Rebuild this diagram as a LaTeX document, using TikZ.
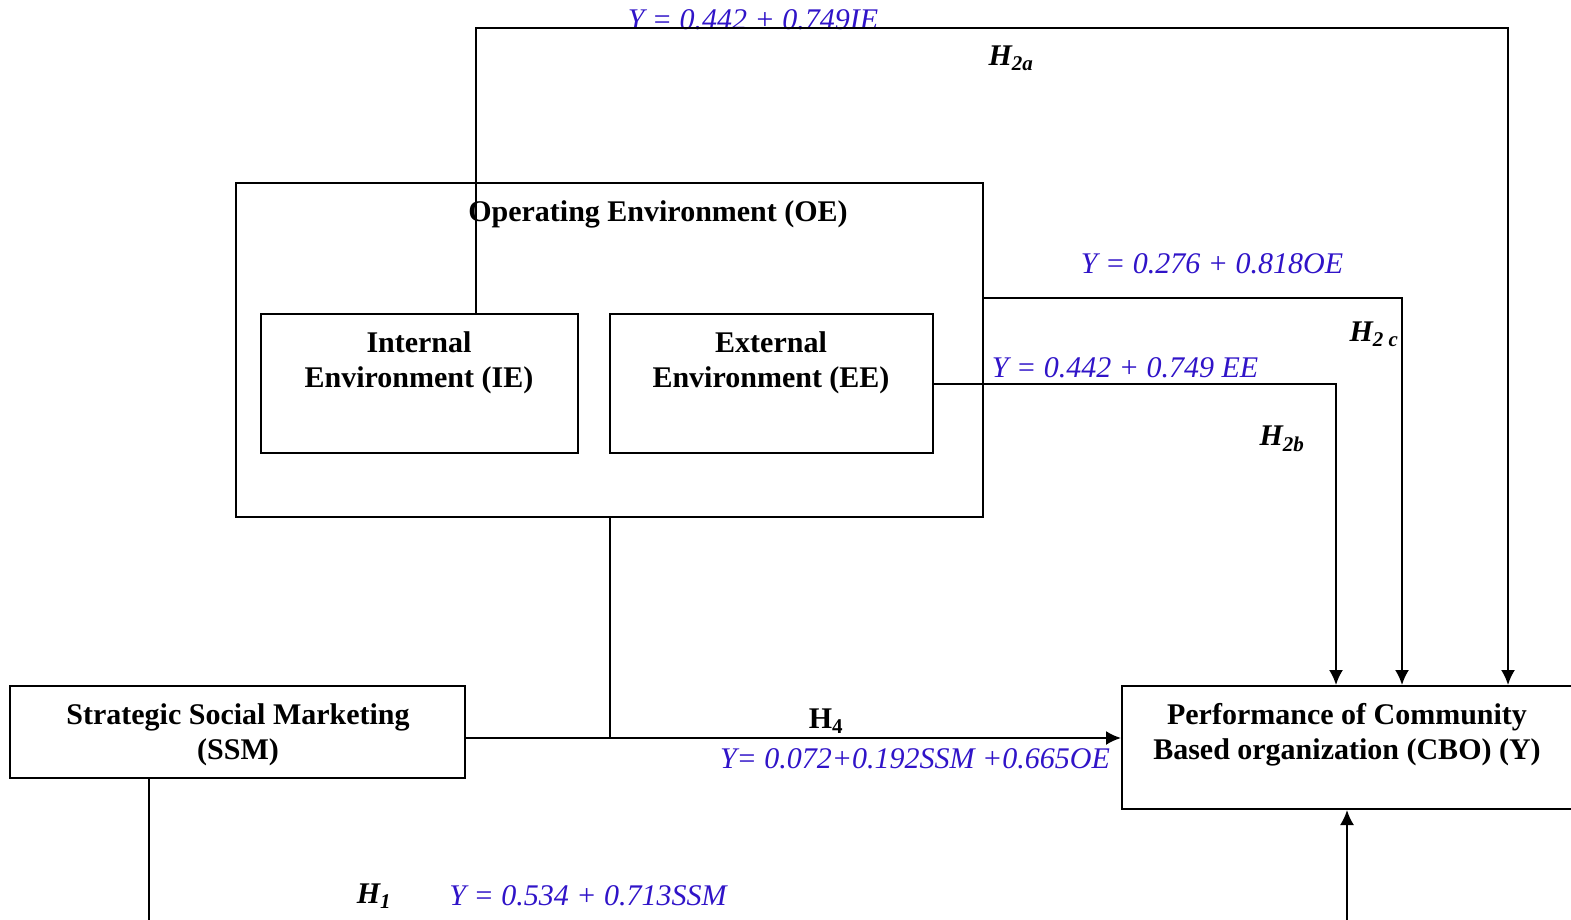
\documentclass[tikz,border=0pt]{standalone}
\usepackage{fontspec}
\setmainfont{Liberation Serif}
\usetikzlibrary{positioning,arrows.meta,calc}
\definecolor{eqblue}{RGB}{48,20,200}

\tikzset{
  box/.style={draw, line width=2pt, inner sep=0pt, anchor=north west},
  boxtext/.style={align=center, inner sep=0pt, font=\fontsize{30}{35}\selectfont\bfseries},
  eq/.style={text=eqblue, inner sep=0pt, font=\fontsize{30}{35}\selectfont\itshape},
  hyp/.style={inner sep=0pt, font=\fontsize{30}{35}\selectfont\bfseries\itshape},
  link/.style={line width=2pt},
  arr/.style={link, -{Latex[length=15pt,width=14pt]}}
}

\begin{document}
\begin{tikzpicture}[x=1pt,y=-1pt]
\useasboundingbox (0,0) rectangle (1571,920);
\clip (0,0) rectangle (1571,920);

% operating environment
\node[box, minimum width=747pt, minimum height=334pt] (oe) at (235,182) {};
\node[boxtext] (oetitle) at (658,214) {Operating Environment (OE)};

\node[box, minimum width=317pt, minimum height=139pt] (ie) at (260,313) {};
\node[boxtext] (ietext) at (419,363) {Internal\\Environment (IE)};

\node[box, minimum width=323pt, minimum height=139pt] (ee) at (609,313) {};
\node[boxtext] (eetext) at (771,363) {External\\Environment (EE)};

% ssm and cbo
\node[box, minimum width=455pt, minimum height=92pt] (ssm) at (9,685) {};
\node[boxtext] (ssmtext) at (238,735) {Strategic Social Marketing\\(SSM)};

\node[box, minimum width=462pt, minimum height=123pt] (cbo) at (1121,685) {};
\node[boxtext] (cbotext) at (1347,735) {Performance of Community\\Based organization (CBO) (Y)};

% labels
\node[eq] (eqie) at (753,20) {Y = 0.442 + 0.749IE};
\node[hyp] (h2a) at (1011,58) {H\textsubscript{2a}};
\node[eq] (eqoe) at (1212,264) {Y = 0.276 + 0.818OE};
\node[hyp] (h2c) at (1374,334) {H\textsubscript{2 c}};
\node[eq] (eqee) at (1125,368) {Y = 0.442 + 0.749 EE};
\node[hyp] (h2b) at (1282,439) {H\textsubscript{2b}};
\node[boxtext] (h4) at (826,721) {H\textsubscript{4}};
\node[eq] (eqssmoe) at (915,759) {Y= 0.072+0.192SSM +0.665OE};
\node[hyp] (h1) at (374,896) {H\textsubscript{1}};
\node[eq] (eqssm) at (588,896) {Y = 0.534 + 0.713SSM};

% arrows
\coordinate (ietop) at ($(ie.north)+(56,0)$);
\coordinate (c2a) at (1508,28);
\draw[arr] (ietop) |- (c2a) -- (c2a |- cbo.north);

\coordinate (c2c) at (1402,298);
\draw[arr] (c2c -| oe.east) -- (c2c) -- (c2c |- cbo.north);

\coordinate (c2b) at (1336,381);
\draw[arr] (ee.east) -| (c2b |- cbo.north);

\coordinate (c4) at (609,738);
\draw[link] (oe.south) -- (oe.south |- c4);
\draw[arr] (c4 -| ssm.east) -- (c4 -| cbo.west);

\coordinate (c1) at (149,930);
\draw[link] (c1 |- ssm.south) -- (c1);

\coordinate (c3) at (1347,930);
\draw[arr] (c3) -- (c3 |- cbo.south);
\end{tikzpicture}
\end{document}
